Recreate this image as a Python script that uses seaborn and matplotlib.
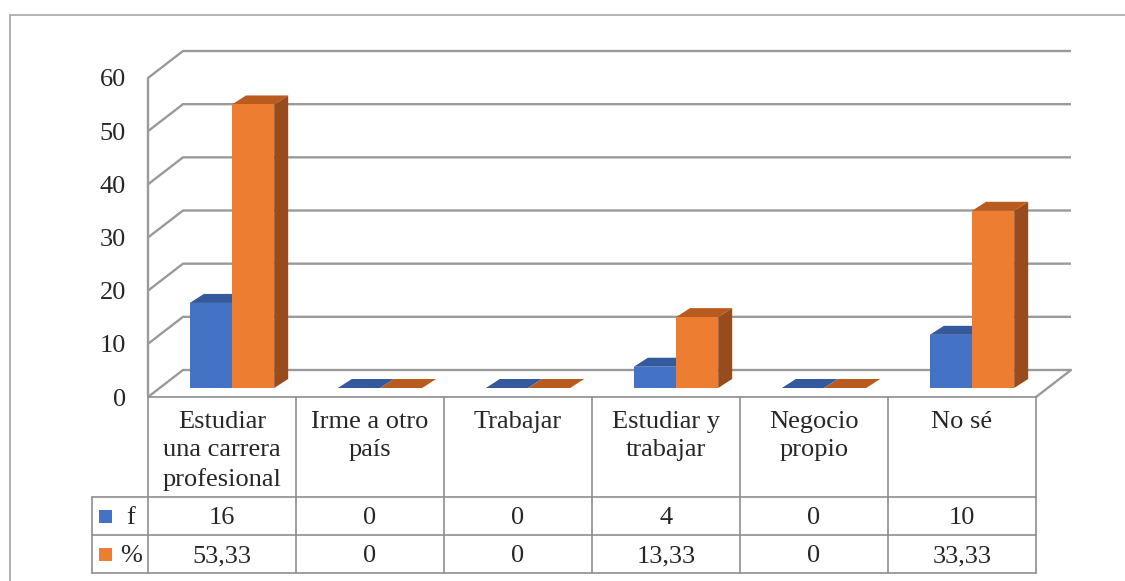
import numpy as np
import pandas as pd
import matplotlib
matplotlib.use('Agg')
import matplotlib.pyplot as plt
import matplotlib.transforms as mtransforms
from matplotlib.patches import Polygon
import seaborn as sns

# Data
categorias = ['Estudiar una carrera profesional', 'Irme a otro país', 'Trabajar',
              'Estudiar y trabajar', 'Negocio propio', 'No sé']
etiquetas = ['Estudiar\nuna carrera\nprofesional', 'Irme a otro\npaís', 'Trabajar',
             'Estudiar y\ntrabajar', 'Negocio\npropio', 'No sé']
series = ['f', '%']
f_vals = [16, 0, 0, 4, 0, 10]
pct_vals = [53.33, 0, 0, 13.33, 0, 33.33]
y_ticks = [0, 10, 20, 30, 40, 50, 60]

df = pd.DataFrame({
    'cat': categorias * 2,
    'serie': ['f'] * 6 + ['%'] * 6,
    'valor': f_vals + pct_vals,
})

sns.set_style('white')
plt.rcParams['font.family'] = ['Liberation Serif', 'DejaVu Serif']
FS = 19
SERIF = ['Liberation Serif', 'DejaVu Serif']

W, H = 1125, 581
fig = plt.figure(figsize=(W / 100, H / 100), dpi=100)

def fx(x):
    return x / W

def fy(y):
    return 1 - y / H

# axes: front plane from x=148 to 1036 (6 columns), 0 at y=397, 60 at y=78
px_x = 148.0
px_y = (397 - 78) / 60.0
wall_dx, wall_dy = 35 / px_x, 27 / px_y
x_right = 5.5 + wall_dx
ax = fig.add_axes([fx(148), fy(397), (x_right + 0.5) * px_x / W, fy(40) - fy(397)])

blue, orange = '#4472C4', '#ED7D31'
top_cols = {'f': '#34599C', '%': '#B95B1F'}
side_cols = {'f': '#2C4D88', '%': '#984C1D'}

sns.barplot(data=df, x='cat', y='valor', hue='serie', order=categorias, hue_order=series,
            palette=[blue, orange], width=0.57, saturation=1, legend=False, ax=ax,
            errorbar=None, zorder=3)
ax.set_xlim(-0.5, x_right)
ax.set_ylim(0, (397 - 40) / px_y)

# 3D walls / gridlines
grid_c = '#9A9A9A'
for v in y_ticks:
    ax.plot([-0.5, -0.5 + wall_dx, x_right], [v, v + wall_dy, v + wall_dy],
            color=grid_c, lw=1.7, clip_on=False, zorder=1, solid_capstyle='butt')
ax.plot([-0.5, -0.5], [0, y_ticks[-1]], color=grid_c, lw=1.7, clip_on=False, zorder=1)
ax.plot([5.5, 5.5 + wall_dx], [0, wall_dy], color=grid_c, lw=1.7, clip_on=False, zorder=1)

# bars: shift to mid-depth and add top / side faces
bx, by = 10 / px_x, 9 / px_y
ddx, ddy = 14 / px_x, 9 / px_y
n = len(categorias)
for i, p in enumerate(ax.patches[:2 * n]):
    s = series[i // n]
    p.set_x(p.get_x() + bx)
    p.set_y(by)
    p.set_linewidth(0)
    x0, x1 = p.get_x(), p.get_x() + p.get_width()
    y0, y1 = by, by + p.get_height()
    ax.add_patch(Polygon([(x0, y1), (x1, y1), (x1 + ddx, y1 + ddy), (x0 + ddx, y1 + ddy)],
                         closed=True, facecolor=top_cols[s], lw=0, zorder=2))
    ax.add_patch(Polygon([(x1, y0), (x1 + ddx, y0 + ddy), (x1 + ddx, y1 + ddy), (x1, y1)],
                         closed=True, facecolor=side_cols[s], lw=0, zorder=2))

for sp in ax.spines.values():
    sp.set_visible(False)
ax.set_xticks([])
ax.set_xlabel('')
ax.set_ylabel('')
ax.set_yticks(y_ticks)
ax.set_yticklabels([str(v) for v in y_ticks], fontsize=FS, family=SERIF)
ax.tick_params(axis='y', length=0, pad=16)
ax.patch.set_alpha(0)

# data table
tr = mtransforms.blended_transform_factory(ax.transData, fig.transFigure)
line_c = '#8E8E8E'
t_top, r1, r2, r3 = 397, 497, 535, 573
x_leg = -0.5 - 56 / px_x
ax.plot([-0.5, 5.5], [fy(t_top)] * 2, transform=tr, color=line_c, lw=1.2, clip_on=False)
for yy in [r1, r2, r3]:
    ax.plot([x_leg, 5.5], [fy(yy)] * 2, transform=tr, color=line_c, lw=1.2, clip_on=False)
for k in range(n + 1):
    ax.plot([k - 0.5] * 2, [fy(t_top), fy(r3)], transform=tr, color=line_c, lw=1.2, clip_on=False)
ax.plot([x_leg] * 2, [fy(r1), fy(r3)], transform=tr, color=line_c, lw=1.2, clip_on=False)

def fmt(v):
    if float(v).is_integer():
        return str(int(v))
    return f'{v:.2f}'.replace('.', ',')

for k, lab in enumerate(etiquetas):
    ax.text(k, fy(411), lab, transform=tr, ha='center', va='top', fontsize=FS,
            family=SERIF, linespacing=1.36, clip_on=False)
    ax.text(k, fy((r1 + r2) / 2), fmt(f_vals[k]), transform=tr, ha='center', va='center_baseline',
            fontsize=FS, family=SERIF, clip_on=False)
    ax.text(k, fy((r2 + r3) / 2), fmt(pct_vals[k]), transform=tr, ha='center', va='center_baseline',
            fontsize=FS, family=SERIF, clip_on=False)

# legend keys in the table
for s, col, (ya, yb) in zip(series, [blue, orange], [(r1, r2), (r2, r3)]):
    yc = (ya + yb) / 2
    fig.patches.append(plt.Rectangle((fx(99), fy(yc + 6.5)), fx(13), 13 / H, facecolor=col,
                                     lw=0, transform=fig.transFigure, figure=fig))
    fig.text(fx(131), fy(yc), s, ha='center', va='center_baseline', fontsize=FS, family=SERIF)

# outer border
fig.add_artist(plt.Line2D([fx(10), 1], [fy(15), fy(15)], color='#A6A6A6', lw=1.2))
fig.add_artist(plt.Line2D([fx(10), fx(10)], [fy(15), 0], color='#A6A6A6', lw=1.2))

fig.savefig('out.png', dpi=100)
